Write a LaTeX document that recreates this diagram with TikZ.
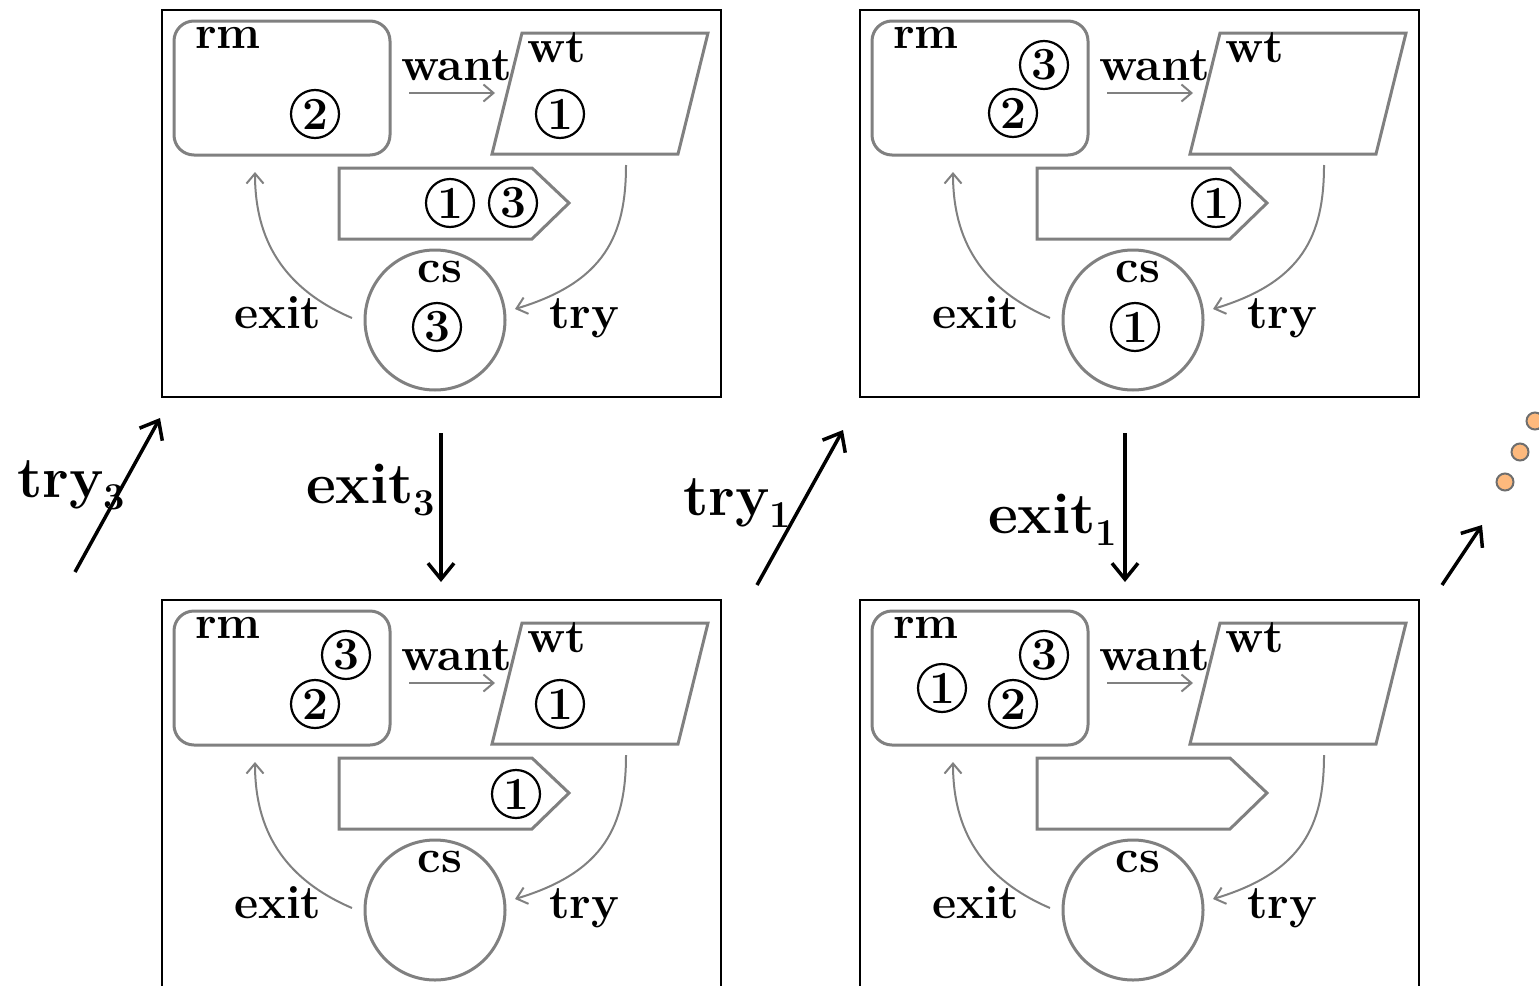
\documentclass[tikz,border=0pt]{standalone}
\usetikzlibrary{arrows.meta}
\definecolor{shapegray}{RGB}{128,128,128}
\definecolor{dotfill}{RGB}{253,185,125}
\definecolor{dotline}{RGB}{110,110,110}

\tikzset{
  panelbox/.style={draw=black, line width=2.5pt, inner sep=0pt, minimum width=559pt, minimum height=387pt},
  outline/.style={draw=shapegray, line width=3pt},
  flow/.style={draw=shapegray, line width=2pt, -{Straight Barb[length=10pt,width=17pt]}},
  lbl/.style={font=\fontsize{47}{47}\selectfont\bfseries, inner sep=0pt},
  tok/.style={circle, draw=black, line width=2.2pt, minimum size=48pt, inner sep=0pt,
              font=\fontsize{46}{46}\selectfont\bfseries},
  big/.style={font=\fontsize{58}{58}\selectfont\bfseries, inner sep=0pt},
  move/.style={line width=3.5pt, -{Straight Barb[length=16pt,width=26pt]}},
  dotmark/.style={circle, fill=dotfill, draw=dotline, line width=2pt, minimum size=17pt, inner sep=0pt},
}

% subscript for the transition labels
\newcommand\subidx[1]{\raisebox{-12pt}{\fontsize{38}{38}\selectfont #1}}

% one state: rm / wt / queue / cs with the local transitions
\newcommand\statepanel[3]{%
  \begin{scope}[shift={(#2,#3)}]
    \node[panelbox] (#1) at (441.5,203.5) {};
    % rm
    \node[outline, rounded corners=20pt, minimum width=216pt, minimum height=134pt] (#1rm) at (282,88) {};
    \node[lbl, anchor=base west] (#1rmtxt) at (195,48) {rm};
    % wt
    \draw[outline] (492,154) coordinate (#1wtbl) -- (522,33) coordinate (#1wttl)
        -- (708,33) coordinate (#1wttr) -- (678,154) coordinate (#1wtbr) -- cycle;
    \node[lbl, anchor=base west] (#1wttxt) at (527,62) {wt};
    % want
    \node[lbl, anchor=base west] (#1wanttxt) at (401,80) {want};
    \coordinate (#1wantA) at (409,93);
    \coordinate (#1wantB) at (495,93);
    \draw[flow] (#1wantA) -- (#1wantB);
    % queue
    \draw[outline] (339,168) coordinate (#1qtl) -- (532,168) -- (569,203) coordinate (#1qtip)
        -- (532,239) -- (339,239) -- cycle;
    % cs
    \node[outline, circle, minimum size=140pt, inner sep=0pt] (#1cs) at (435,320) {};
    \node[lbl, anchor=base] (#1cstxt) at (440,282) {cs};
    % exit
    \coordinate (#1exitA) at (352,318);
    \coordinate (#1exitB) at (255,172);
    \draw[flow] (#1exitA) .. controls (275,285) and (255,230) .. (#1exitB);
    \node[lbl, anchor=base west] (#1exittxt) at (234,328) {exit};
    % try
    \coordinate (#1tryA) at (626,165);
    \coordinate (#1tryB) at (515,309);
    \draw[flow] (#1tryA) .. controls (626,235) and (605,282) .. (#1tryB);
    \node[lbl, anchor=base west] (#1trytxt) at (549,328) {try};
  \end{scope}}

\begin{document}
\begin{tikzpicture}[x=1pt, y=-1pt]
  \useasboundingbox (0,0) rectangle (1539,985);
  \clip (0,0) rectangle (1539,985);

  \statepanel{A}{0}{0}
  \statepanel{B}{698}{0}
  \statepanel{C}{0}{590}
  \statepanel{D}{698}{590}

  % processes in state A
  \node[tok] (A2rm) at (315,114) {2};
  \node[tok] (A1wt) at (560,114) {1};
  \node[tok] (A1q) at (450,203) {1};
  \node[tok] (A3q) at (513,203) {3};
  \node[tok] (A3cs) at (437,327) {3};

  % processes in state B
  \node[tok] (B3rm) at (1044,65) {3};
  \node[tok] (B2rm) at (1013,113) {2};
  \node[tok] (B1q) at (1216,203) {1};
  \node[tok] (B1cs) at (1135,327) {1};

  % processes in state C
  \node[tok] (C3rm) at (346,655) {3};
  \node[tok] (C2rm) at (315,704) {2};
  \node[tok] (C1wt) at (560,704) {1};
  \node[tok] (C1q) at (516,794) {1};

  % processes in state D
  \node[tok] (D1rm) at (942,688) {1};
  \node[tok] (D2rm) at (1013,704) {2};
  \node[tok] (D3rm) at (1044,655) {3};

  % global transitions
  \coordinate (t3a) at (75,572);   \coordinate (t3b) at (160,418);
  \coordinate (e3a) at (441,433);  \coordinate (e3b) at (441,582);
  \coordinate (t1a) at (757,585);  \coordinate (t1b) at (843,430);
  \coordinate (e1a) at (1125,433); \coordinate (e1b) at (1125,582);
  \coordinate (nxa) at (1442,585); \coordinate (nxb) at (1482,525);
  \draw[move] (t3a) -- (t3b);
  \draw[move] (e3a) -- (e3b);
  \draw[move] (t1a) -- (t1b);
  \draw[move] (e1a) -- (e1b);
  \draw[move] (nxa) -- (nxb);

  \node[big, anchor=base west] (try3) at (17,497) {try\subidx{3}};
  \node[big, anchor=base west] (exit3) at (306,503) {exit\subidx{3}};
  \node[big, anchor=base west] (try1) at (683,515) {try\subidx{1}};
  \node[big, anchor=base west] (exit1) at (988,533) {exit\subidx{1}};

  % continuation dots
  \node[dotmark] (dot1) at (1505,482) {};
  \node[dotmark] (dot2) at (1520,452) {};
  \node[dotmark] (dot3) at (1535,421) {};
\end{tikzpicture}
\end{document}
